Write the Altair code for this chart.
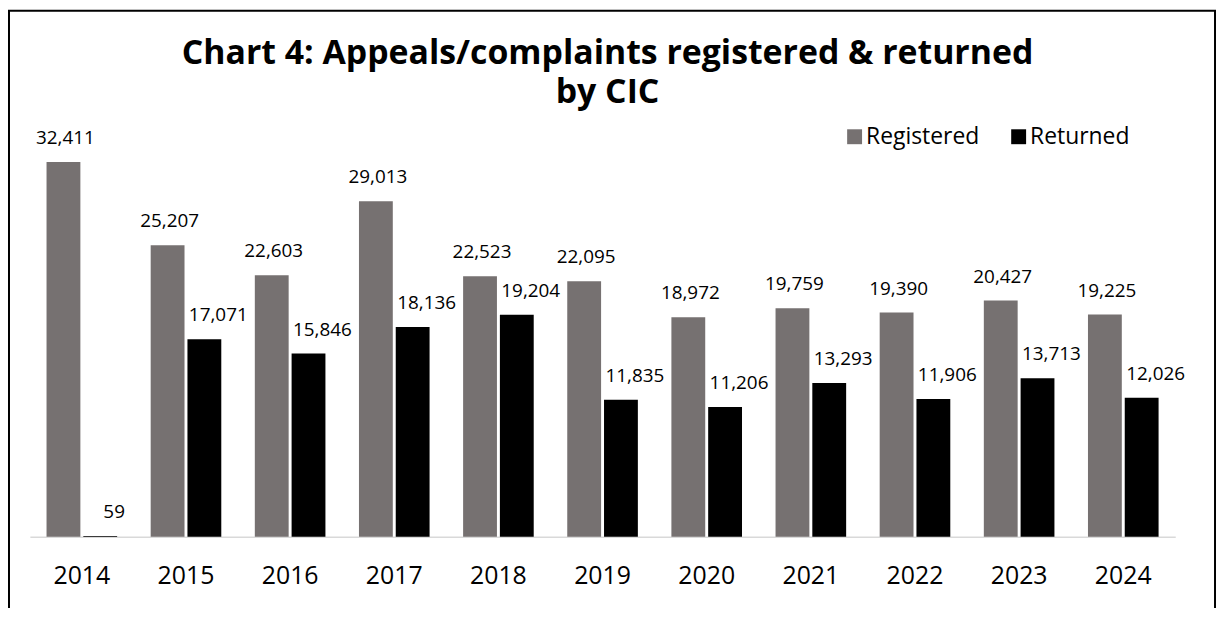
import altair as alt
import pandas as pd

years = ["2014", "2015", "2016", "2017", "2018", "2019", "2020", "2021", "2022", "2023", "2024"]
registered = [32411, 25207, 22603, 29013, 22523, 22095, 18972, 19759, 19390, 20427, 19225]
returned = [59, 17071, 15846, 18136, 19204, 11835, 11206, 13293, 11906, 13713, 12026]
series_names = ["Registered", "Returned"]
series_colors = ["#767171", "#000000"]
title_lines = ["Chart 4: Appeals/complaints registered & returned", "by CIC"]

rows = []
for i, yr in enumerate(years):
    rows.append({"year": yr, "series": "Registered", "value": registered[i]})
    rows.append({"year": yr, "series": "Returned", "value": returned[i]})
df = pd.DataFrame(rows)

FONT = "Open Sans"

x = alt.X(
    "year:N", sort=years, title=None,
    scale=alt.Scale(paddingInner=0.322, paddingOuter=0.16),
    axis=alt.Axis(labelFontSize=25, labelFont=FONT, labelColor="#000000",
                  labelPadding=27, ticks=False, domainColor="#d9d9d9",
                  domainWidth=1.5, labelAngle=0, grid=False),
)
y = alt.Y("value:Q", scale=alt.Scale(domain=[0, 35000]), axis=None)
xoff = alt.XOffset("series:N", sort=series_names, scale=alt.Scale(paddingInner=0.08))
color = alt.Color(
    "series:N", sort=series_names,
    scale=alt.Scale(domain=series_names, range=series_colors),
    legend=alt.Legend(title=None, orient="none", legendX=818, legendY=-7,
                      direction="horizontal", symbolType="square", symbolSize=225,
                      symbolStrokeWidth=0, labelFontSize=23, labelFont=FONT,
                      labelColor="#000000", labelOffset=0, columnPadding=28),
)

base = alt.Chart(df)
bars = base.mark_bar().encode(x=x, y=y, xOffset=xoff, color=color)

lab_reg = base.transform_filter(alt.datum.series == "Registered").mark_text(
    dy=-24, dx=2, fontSize=19, font=FONT, color="#000000", baseline="middle"
).encode(x=x, y=y, xOffset=xoff, text=alt.Text("value:Q", format=","))

lab_ret = base.transform_filter(alt.datum.series == "Returned").mark_text(
    dy=-24, dx=14, fontSize=19, font=FONT, color="#000000", baseline="middle"
).encode(x=x, y=y, xOffset=xoff, text=alt.Text("value:Q", format=","))

frame = alt.Chart(pd.DataFrame({"f": [0]})).mark_rect(
    fillOpacity=0, stroke="#000000", strokeWidth=2
).encode(x=alt.value(-21), x2=alt.value(1192), y=alt.value(-122), y2=alt.value(700))

chart = alt.layer(bars, lab_reg, lab_ret, frame).properties(
    width=1152, height=407,
    title=alt.TitleParams(title_lines, fontSize=34, font=FONT, fontWeight="bold",
                          color="#000000", anchor="middle", lineHeight=39,
                          offset=-101, dx=5),
    autosize=alt.AutoSizeParams(type="none"),
    padding={"left": 22, "top": 123, "right": 42, "bottom": 70},
    background="#ffffff",
).configure_view(stroke="transparent", strokeWidth=0)

chart.save("out.html", embed_options={"renderer": "svg", "actions": False})
